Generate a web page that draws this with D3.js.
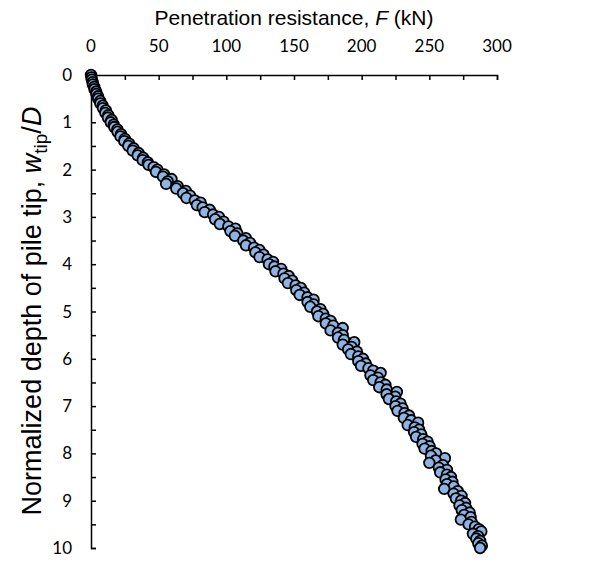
<!DOCTYPE html>
<html>
<head>
<meta charset="utf-8">
<script src="https://cdn.jsdelivr.net/npm/d3@7"></script>
<style>
  body { margin: 0; background: white; }
</style>
</head>
<body>
<div id="chart"></div>
<script>
// normalized depth w_tip/D
var depth = [0.00,0.05,0.10,0.15,0.20,0.25,0.30,0.35,0.40,0.45,0.50,0.55,0.60,0.65,0.70,0.75,0.80,0.85,0.90,0.95,
  1.00,1.05,1.10,1.15,1.20,1.25,1.30,1.35,1.40,1.45,1.50,1.55,1.60,1.65,1.70,1.75,1.80,1.85,1.90,1.95,
  2.00,2.05,2.10,2.15,2.20,2.25,2.30,2.35,2.40,2.45,2.50,2.55,2.60,2.65,2.70,2.75,2.80,2.85,2.90,2.95,
  3.00,3.05,3.10,3.15,3.20,3.25,3.30,3.35,3.40,3.45,3.50,3.55,3.60,3.65,3.70,3.75,3.80,3.85,3.90,3.95,
  4.00,4.05,4.10,4.15,4.20,4.25,4.30,4.35,4.40,4.45,4.50,4.55,4.60,4.65,4.70,4.75,4.80,4.85,4.90,4.95,
  5.00,5.05,5.10,5.15,5.20,5.25,5.30,5.35,5.40,5.45,5.50,5.55,5.60,5.65,5.70,5.75,5.80,5.85,5.90,5.95,
  6.00,6.05,6.10,6.15,6.20,6.25,6.30,6.35,6.40,6.45,6.50,6.55,6.60,6.65,6.70,6.75,6.80,6.85,6.90,6.95,
  7.00,7.05,7.10,7.15,7.20,7.25,7.30,7.35,7.40,7.45,7.50,7.55,7.60,7.65,7.70,7.75,7.80,7.85,7.90,7.95,
  8.00,8.05,8.10,8.15,8.20,8.25,8.30,8.35,8.40,8.45,8.50,8.55,8.60,8.65,8.70,8.75,8.80,8.85,8.90,8.95,
  9.00,9.05,9.10,9.15,9.20,9.25,9.30,9.35,9.40,9.45,9.50,9.55,9.60,9.65,9.70,9.75,9.80,9.85,9.90,9.95,
  10.00]

// penetration resistance F (kN)
var force = [0,0.3,0.6,1.2,1.4,2.4,2.6,3.8,4.0,5.2,5.3,6.8,6.9,8.6,8.8,11.0,10.6,12.8,12.5,15.2,
  14.6,16.8,17.2,19.5,19.6,22.2,21.8,25.0,24.6,28.2,27.6,31.5,30.8,35.2,34.5,38.6,38.2,42.0,42.5,46.3,
  49.0,48.0,54.0,53.2,59.5,56.7,55.5,64.0,63.0,70.0,68.0,73.2,70.5,76.7,81.0,78.2,82.5,87.7,84.0,90.2,
  94.5,91.7,98.0,95.2,101.5,106.7,103.0,108.1,106.3,114.4,112.5,117.5,114.5,120.5,124.5,121.5,127.5,124.5,130.5,134.5,
  131.5,135.5,140.5,136.3,142.2,146.1,143.0,148.7,145.5,151.2,155.0,151.7,157.5,154.2,160.0,164.5,160.0,164.5,162.0,169.5,
  167.0,171.5,168.0,173.5,177.0,173.5,179.0,186.0,177.0,182.5,186.0,182.5,187.0,194.5,186.0,192.5,190.0,196.5,192.0,197.5,
  201.0,197.5,203.0,199.5,205.0,208.5,214.0,206.5,212.0,208.5,214.0,217.5,213.0,218.5,226.0,218.4,224.8,220.1,225.5,228.7,
  225.0,230.2,226.5,231.7,235.0,231.2,236.5,241.7,234.0,239.2,242.5,238.7,244.0,240.2,245.5,248.7,245.0,250.2,246.5,251.7,
  255.0,251.2,261.5,254.7,250.0,260.0,257.0,263.0,258.0,263.0,266.0,262.0,267.0,263.0,268.0,261.0,271.0,267.9,273.8,269.6,
  273.5,276.4,272.3,277.1,274.0,279.8,275.7,280.5,273.3,281.1,279.0,283.8,286.6,288.4,282.2,286.0,284.7,287.5,286.2,288.8,
  287.5]

var xTicks = [0, 50, 100, 150, 200, 250, 300]
var yTicks = [0, 1, 2, 3, 4, 5, 6, 7, 8, 9, 10]

let svg = d3.select("#chart")
    .append("svg")
    .attr("width", 593)
    .attr("height", 562)
    .style("font-family", "'Liberation Sans', Arial, sans-serif")

var x = d3.scaleLinear()
    .domain([0, 300])
    .range([91, 497]);
var y = d3.scaleLinear()
    .domain([0, 10])
    .range([75, 548]);

// x axis on top, ticks pointing into the plot
let xAxis = svg.append("g")
    .attr("transform", "translate(0,75)")
    .call(d3.axisTop(x).tickValues(d3.range(0, 301, 25)).tickSize(-5).tickFormat(""))
xAxis.select(".domain").attr("stroke-width", 1.5)
xAxis.selectAll(".tick line").attr("stroke-width", 1.5)

svg.selectAll(".xlab")
    .data(xTicks)
    .enter()
    .append("text")
    .attr("class", "xlab")
    .attr("x", d => x(d))
    .attr("y", 52)
    .attr("text-anchor", "middle")
    .style("font-family", "Lato, 'Open Sans', sans-serif")
    .style("font-size", "17px")
    .text(d => d)

// y axis, ticks pointing right
let yAxis = svg.append("g")
    .attr("transform", "translate(91,0)")
    .call(d3.axisLeft(y).tickValues(d3.range(0, 10.01, 0.5)).tickSize(-5).tickFormat(""))
yAxis.select(".domain").attr("stroke-width", 1.5)
yAxis.selectAll(".tick line").attr("stroke-width", 1.5)

svg.selectAll(".ylab")
    .data(yTicks)
    .enter()
    .append("text")
    .attr("class", "ylab")
    .attr("x", 72)
    .attr("y", d => y(d) + 6)
    .attr("text-anchor", "end")
    .style("font-family", "Lato, 'Open Sans', sans-serif")
    .style("font-size", "17px")
    .text(d => d)

// points
let pts = depth.map((d, i) => ({ d: d, f: force[i] }))
svg.append("g")
    .selectAll("circle")
    .data(pts)
    .enter()
    .append("circle")
    .attr("cx", p => x(p.f))
    .attr("cy", p => y(p.d))
    .attr("r", 5.3)
    .attr("fill", "#8db4e2")
    .attr("stroke", "#000")
    .attr("stroke-width", 1.8)

// axis titles
let xt = svg.append("text")
    .attr("x", 294)
    .attr("y", 25)
    .attr("text-anchor", "middle")
    .style("font-size", "21px")
xt.append("tspan").text("Penetration resistance, ")
xt.append("tspan").style("font-style", "italic").text("F")
xt.append("tspan").text(" (kN)")

let yt = svg.append("text")
    .attr("transform", "translate(41,311) rotate(-90)")
    .attr("text-anchor", "middle")
    .style("font-size", "27px")
yt.append("tspan").text("Normalized depth of pile tip, ")
yt.append("tspan").style("font-style", "italic").text("w")
yt.append("tspan").attr("dy", 6).style("font-size", "19px").text("tip")
yt.append("tspan").attr("dy", -6).text("/")
yt.append("tspan").style("font-style", "italic").text("D")
</script>
</body>
</html>
